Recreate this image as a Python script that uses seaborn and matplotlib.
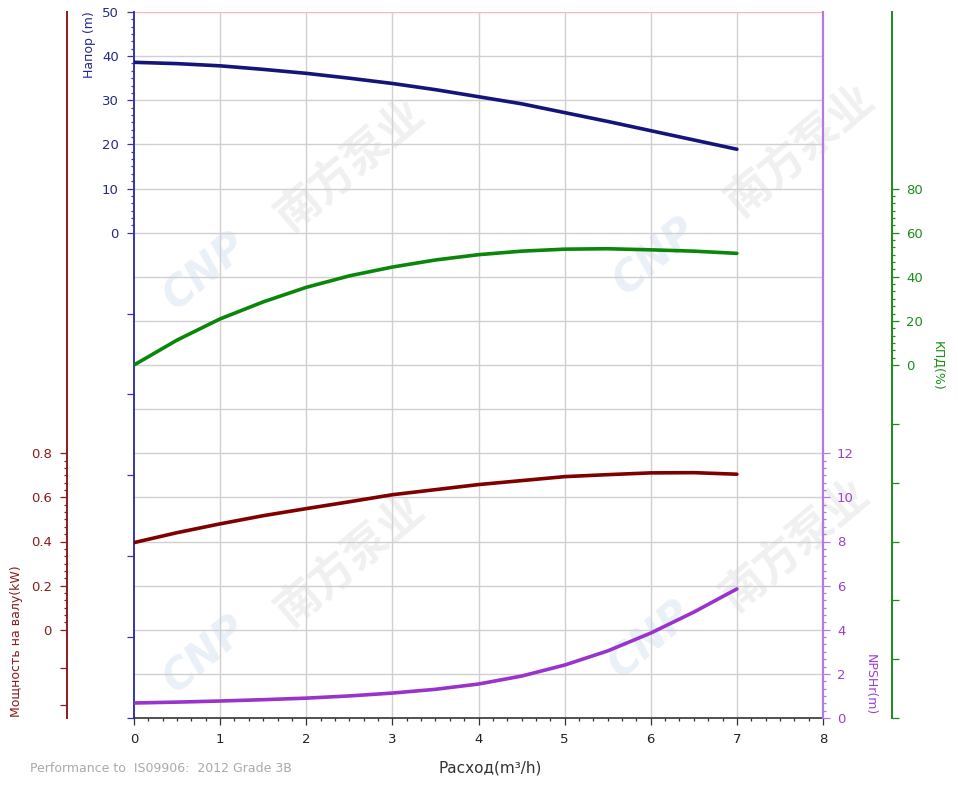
import numpy as np
import matplotlib
matplotlib.use("Agg")
import matplotlib.pyplot as plt
import seaborn as sns
from matplotlib.ticker import FixedLocator, FuncFormatter

# ---------------- data ----------------
flow = [0.0, 0.5, 1.0, 1.5, 2.0, 2.5, 3.0, 3.5, 4.0, 4.5, 5.0, 5.5, 6.0, 6.5, 7.0]
head = [38.6, 38.3, 37.8, 37.0, 36.1, 35.0, 33.8, 32.4, 30.8, 29.2, 27.2, 25.2, 23.1, 21.0, 18.9]
efficiency = [0.0, 11.3, 20.9, 28.6, 35.2, 40.4, 44.4, 47.6, 50.0, 51.6, 52.5, 52.7, 52.2, 51.6, 50.6]
power = [0.395, 0.44, 0.48, 0.517, 0.549, 0.58, 0.612, 0.635, 0.658, 0.676, 0.694, 0.703, 0.711, 0.712, 0.705]
npsh = [0.68, 0.72, 0.77, 0.83, 0.90, 1.00, 1.13, 1.30, 1.54, 1.90, 2.40, 3.04, 3.85, 4.80, 5.85]

x_ticks = [0, 1, 2, 3, 4, 5, 6, 7, 8]
head_ticks = [0, 10, 20, 30, 40, 50]
power_ticks = [0, 0.2, 0.4, 0.6, 0.8]
eff_ticks = [0, 20, 40, 60, 80]
npsh_ticks = [0, 2, 4, 6, 8, 10, 12]

# ---------------- style ----------------
sns.set_theme(style="white")
plt.rcParams['font.family'] = ['DejaVu Sans', 'Noto Sans CJK SC']

C_HEAD_LINE = "#14147a"
C_HEAD = "#3535a8"
C_HEAD_TXT = "#26268c"
C_POW_LINE = "#800000"
C_POW = "#8b1c1c"
C_EFF_LINE = "#0a870a"
C_EFF = "#1a8c1a"
C_NPSH_LINE = "#9933cc"
C_NPSH = "#b37ae0"
C_NPSH_TXT = "#9a40d0"
GRID = "#d0d0d0"

W, H = 958, 785
fig = plt.figure(figsize=(W / 100, H / 100), dpi=100)
fig.patch.set_facecolor("white")
x0, x1, y0, y1 = 134, 823, 12, 718
ax = fig.add_axes([x0 / W, 1 - y1 / H, (x1 - x0) / W, (y1 - y0) / H])
ax.set_facecolor("none")

# watermark
wm = [((350, 165), (205, 272)), ((800, 150), (655, 257)),
      ((350, 560), (205, 655)), ((795, 545), (650, 640))]
for (tx, ty), (cx, cy) in wm:
    fig.text(tx / W, 1 - ty / H, "南方泵业", fontsize=32, rotation=40, color="#f0f0f0",
             ha="center", va="center", family=["Noto Sans CJK SC"], fontweight="bold", zorder=-5)
    fig.text(cx / W, 1 - cy / H, "CNP", fontsize=30, rotation=40, color="#e9f0f8",
             ha="center", va="center", fontweight="bold", fontstyle="italic", zorder=-5)

# ranges
ax.set_xlim(0, 8)
ax.set_ylim(-110, 50)

# grid
ax.hlines(np.arange(-100, 41, 10), 0, 8, color=GRID, lw=1.0, zorder=0)
ax.axhline(50, color="#ffb8b8", lw=1.0, zorder=0)
ax.vlines(range(1, 8), -110, 50, color=GRID, lw=1.0, zorder=0)

# twin axes
axp = ax.twinx()
axn = ax.twinx()
axe = ax.twinx()
for a in (axp, axn, axe):
    a.set_facecolor("none")
    a.grid(False)
axp.set_ylim(-0.4, 2.8)
axn.set_ylim(0, 32)
axe.set_ylim(-160, 160)

# lines
sns.lineplot(x=flow, y=head, ax=ax, color=C_HEAD_LINE, linewidth=2.6, zorder=5, legend=False)
sns.lineplot(x=flow, y=efficiency, ax=axe, color=C_EFF_LINE, linewidth=2.6, zorder=5, legend=False)
sns.lineplot(x=flow, y=power, ax=axp, color=C_POW_LINE, linewidth=2.6, zorder=5, legend=False)
sns.lineplot(x=flow, y=npsh, ax=axn, color=C_NPSH_LINE, linewidth=2.6, zorder=5, legend=False)
for a in (ax, axp, axn, axe):
    a.set_xlabel("")
    a.set_ylabel("")

def lbl(ticks):
    keep = set(ticks)
    def f(v, pos):
        for t in keep:
            if abs(v - t) < 1e-6:
                return f"{t:g}"
        return ""
    return FuncFormatter(f)

def minor(lo, hi, step):
    return list(np.arange(lo, hi + step * 0.01, step / 6))

# ---- main axis: head (left) + x (bottom)
for s in ("top", "right"):
    ax.spines[s].set_visible(False)
ax.spines["left"].set_color(C_HEAD)
ax.spines["left"].set_linewidth(1.4)
ax.spines["bottom"].set_color("#333333")
ax.spines["bottom"].set_linewidth(1.2)
ax.set_xticks(x_ticks)
ax.set_xticklabels([str(t) for t in x_ticks])
ax.xaxis.set_minor_locator(FixedLocator(minor(0, 8, 1)))
head_major = head_ticks + [-110 / 6 * k for k in range(1, 7)]
ax.yaxis.set_major_locator(FixedLocator(head_major))
ax.yaxis.set_major_formatter(lbl(head_ticks))
ax.yaxis.set_minor_locator(FixedLocator(minor(0, 50, 10)))
ax.tick_params(axis="x", which="major", direction="out", length=5, width=0.9, color="#333333",
               labelsize=9.5, labelcolor="#222222", pad=6, bottom=True)
ax.tick_params(axis="x", which="minor", direction="out", length=2.5, width=0.9, color="#333333", bottom=True)
ax.tick_params(axis="y", which="major", direction="out", length=5, width=0.9, color=C_HEAD,
               labelsize=9.5, labelcolor=C_HEAD_TXT, pad=6, left=True)
ax.tick_params(axis="y", which="minor", direction="out", length=2.5, width=0.9, color=C_HEAD, left=True)

# ---- power axis (far left)
for s in ("top", "right", "bottom"):
    axp.spines[s].set_visible(False)
axp.spines["left"].set_visible(True)
axp.spines["left"].set_position(("axes", (67 - x0) / (x1 - x0)))
axp.spines["left"].set_color(C_POW)
axp.spines["left"].set_linewidth(1.4)
axp.yaxis.set_ticks_position("left")
axp.yaxis.set_label_position("left")
pow_major = power_ticks + [-0.4 / 7 * 3, -0.4 / 7 * 6]
axp.yaxis.set_major_locator(FixedLocator(pow_major))
axp.yaxis.set_major_formatter(lbl(power_ticks))
axp.yaxis.set_minor_locator(FixedLocator(minor(0, 0.8, 0.2)))
axp.tick_params(axis="y", which="major", direction="out", length=5, width=0.9, color=C_POW,
                labelsize=9.5, labelcolor=C_POW, pad=6)
axp.tick_params(axis="y", which="minor", direction="out", length=2.5, width=0.9, color=C_POW)

# ---- NPSH axis (right)
for s in ("top", "left", "bottom"):
    axn.spines[s].set_visible(False)
axn.spines["right"].set_color(C_NPSH)
axn.spines["right"].set_linewidth(1.6)
axn.yaxis.set_major_locator(FixedLocator(npsh_ticks))
axn.yaxis.set_major_formatter(lbl(npsh_ticks))
axn.yaxis.set_minor_locator(FixedLocator(minor(0, 12, 2)))
axn.tick_params(axis="y", which="major", direction="out", length=5, width=0.9, color=C_NPSH,
                labelsize=9.5, labelcolor=C_NPSH_TXT, pad=5)
axn.tick_params(axis="y", which="minor", direction="out", length=2.5, width=0.9, color=C_NPSH)

# ---- efficiency axis (far right)
for s in ("top", "left", "bottom"):
    axe.spines[s].set_visible(False)
axe.spines["right"].set_position(("axes", (892 - x0) / (x1 - x0)))
axe.spines["right"].set_color(C_EFF)
axe.spines["right"].set_linewidth(1.4)
eff_major = eff_ticks + [-160 / 6 * k for k in range(1, 7)]
axe.yaxis.set_major_locator(FixedLocator(eff_major))
axe.yaxis.set_major_formatter(lbl(eff_ticks))
axe.yaxis.set_minor_locator(FixedLocator(minor(0, 80, 20)))
axe.tick_params(axis="y", which="major", direction="out", length=5, width=0.9, color=C_EFF,
                labelsize=9.5, labelcolor=C_EFF, pad=5)
axe.tick_params(axis="y", which="minor", direction="out", length=2.5, width=0.9, color=C_EFF)

# ---- axis titles
fig.text(89 / W, 1 - 45 / H, "Напор (m)", rotation=90, color=C_HEAD_TXT, fontsize=9,
         ha="center", va="center")
fig.text(17 / W, 1 - 641 / H, "Мощность на валу(kW)", rotation=90, color=C_POW, fontsize=9,
         ha="center", va="center")
fig.text(870 / W, 1 - 685 / H, "NPSHr(m)", rotation=270, color=C_NPSH_TXT, fontsize=9,
         ha="center", va="center")
fig.text(937 / W, 1 - 366 / H, "КПД(%)", rotation=270, color=C_EFF, fontsize=9,
         ha="center", va="center")
fig.text(490 / W, 1 - 768 / H, "Расход(m³/h)", color="#333333", fontsize=11,
         ha="center", va="center")
fig.text(30 / W, 1 - 769 / H, "Performance to  IS09906:  2012 Grade 3B", color="#aaaaaa",
         fontsize=9, ha="left", va="center")

fig.savefig("out.png", dpi=100, facecolor="white")
